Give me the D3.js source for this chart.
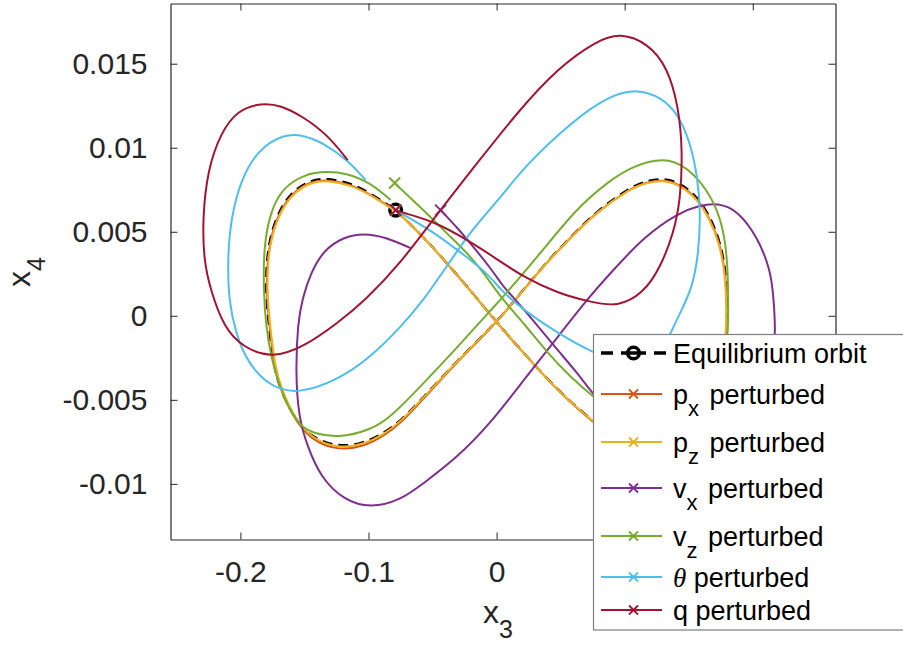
<!DOCTYPE html>
<html>
<head>
<meta charset="utf-8">
<script src="https://cdn.jsdelivr.net/npm/d3@7"></script>
<style>
body { margin: 0; background: #fff; }
svg { display: block; font-family: "Liberation Sans", Arial, sans-serif; }
</style>
</head>
<body>
<svg id="chart" width="903" height="646"></svg>
<script>
// axis ticks
var xTicks = [-0.2, -0.1, 0, 0.1, 0.2];
var yTicks = [-0.01, -0.005, 0, 0.005, 0.01, 0.015];

// equilibrium orbit (x3, x4)
var eqX = [-0.0788,-0.0570,-0.0359,-0.0187,0,0.0211,0.0476,0.0757,0.0968,0.1241,0.1460,0.1632,0.1733,0.1780,0.1803,0.1803,0.1788,0.1749,0.1671,0.1569,0.1436,0.1304,0.1163,0.1046,0.0788,0.0578,0.0383,0.0187,0,-0.0304,-0.0570,-0.0749,-0.0882,-0.1038,-0.1241,-0.1452,-0.1585,-0.1686,-0.1741,-0.1780,-0.1803,-0.1796,-0.1764,-0.1686,-0.1585,-0.1452,-0.1319,-0.1140,-0.0984,-0.0788];
var eqY = [0.00629,0.00470,0.00289,0.00135,-0.00038,-0.00222,-0.00442,-0.00633,-0.00740,-0.00782,-0.00722,-0.00603,-0.00442,-0.00264,-0.00085,0.00111,0.00272,0.00433,0.00588,0.00707,0.00790,0.00820,0.00802,0.00766,0.00629,0.00469,0.00314,0.00135,-0.00038,-0.00264,-0.00484,-0.00625,-0.00698,-0.00758,-0.00782,-0.00722,-0.00603,-0.00442,-0.00305,-0.00044,0.00135,0.00332,0.00492,0.00647,0.00748,0.00808,0.00820,0.00790,0.00730,0.00629];

// p_x perturbed
var pxX = [-0.0788,-0.0568,-0.0357,-0.0185,0.0002,0.0213,0.0478,0.0758,0.0968,0.1241,0.1462,0.1632,0.1731,0.1776,0.1797,0.1797,0.1783,0.1744,0.1666,0.1565,0.1433,0.1302,0.1162,0.1044,0.0786,0.0576,0.0381,0.0185,-0.0002,-0.0306,-0.0572,-0.0751,-0.0882,-0.1038,-0.1241,-0.1450,-0.1582,-0.1681,-0.1736,-0.1775,-0.1797,-0.1790,-0.1759,-0.1682,-0.1581,-0.1450,-0.1319,-0.1140,-0.0984,-0.0789];
var pxY = [0.00629,0.00467,0.00286,0.00132,-0.00041,-0.00225,-0.00447,-0.00640,-0.00752,-0.00797,-0.00736,-0.00612,-0.00447,-0.00264,-0.00085,0.00110,0.00271,0.00430,0.00583,0.00700,0.00781,0.00811,0.00793,0.00758,0.00622,0.00464,0.00309,0.00131,-0.00043,-0.00271,-0.00495,-0.00640,-0.00715,-0.00778,-0.00802,-0.00738,-0.00612,-0.00444,-0.00305,-0.00044,0.00134,0.00330,0.00488,0.00640,0.00740,0.00800,0.00811,0.00782,0.00723,0.00625];

// p_z perturbed
var pzX = [-0.0788,-0.0566,-0.0355,-0.0183,0.0004,0.0215,0.0480,0.0760,0.0968,0.1241,0.1460,0.1628,0.1728,0.1772,0.1793,0.1793,0.1779,0.1740,0.1662,0.1562,0.1430,0.1300,0.1160,0.1042,0.0784,0.0574,0.0379,0.0183,-0.0004,-0.0308,-0.0574,-0.0753,-0.0882,-0.1038,-0.1241,-0.1448,-0.1578,-0.1676,-0.1731,-0.1770,-0.1792,-0.1786,-0.1754,-0.1678,-0.1578,-0.1448,-0.1319,-0.1140,-0.0984,-0.0790];
var pzY = [0.00629,0.00466,0.00285,0.00131,-0.00042,-0.00226,-0.00446,-0.00636,-0.00745,-0.00788,-0.00728,-0.00606,-0.00444,-0.00264,-0.00085,0.00110,0.00270,0.00428,0.00580,0.00697,0.00778,0.00808,0.00790,0.00755,0.00620,0.00462,0.00308,0.00130,-0.00042,-0.00268,-0.00490,-0.00632,-0.00706,-0.00766,-0.00790,-0.00728,-0.00606,-0.00442,-0.00305,-0.00044,0.00133,0.00328,0.00485,0.00636,0.00736,0.00795,0.00806,0.00778,0.00720,0.00622];

// v_x perturbed
var vxX = [-0.0437,-0.0304,-0.0180,-0.0047,0.0055,0.0094,0.0265,0.0476,0.0632,0.0757,0.0929,0.1163,0.1436,0.1710,0.1944,0.2100,0.2162,0.2178,0.2162,0.2139,0.2037,0.1881,0.1725,0.1593,0.1413,0.1148,0.0890,0.0734,0.0476,0.0211,-0.0047,-0.0304,-0.0570,-0.0749,-0.0984,-0.1194,-0.1374,-0.1475,-0.1546,-0.1569,-0.1553,-0.1515,-0.1452,-0.1351,-0.1194,-0.1038,-0.0867,-0.0671];
var vxY = [0.00629,0.00522,0.00409,0.00284,0.00171,0.00141,-0.00008,-0.00204,-0.00341,-0.00472,-0.00609,-0.00740,-0.00799,-0.00770,-0.00651,-0.00472,-0.00264,-0.00085,0.00111,0.00272,0.00469,0.00629,0.00671,0.00659,0.00611,0.00469,0.00254,0.00123,-0.00127,-0.00383,-0.00639,-0.00841,-0.00996,-0.01097,-0.01145,-0.01097,-0.00960,-0.00782,-0.00603,-0.00341,-0.00043,0.00106,0.00254,0.00391,0.00469,0.00492,0.00469,0.00403];

// v_z perturbed
var vzX = [-0.0796,-0.0656,-0.0515,-0.0375,-0.0226,-0.0086,0.0031,0.0211,0.0398,0.0578,0.0757,0.0968,0.1202,0.1436,0.1632,0.1749,0.1803,0.1811,0.1803,0.1749,0.1647,0.1491,0.1304,0.1046,0.0890,0.0632,0.0343,0.0031,-0.0047,-0.0304,-0.0570,-0.0827,-0.0984,-0.1241,-0.1429,-0.1530,-0.1663,-0.1764,-0.1803,-0.1819,-0.1819,-0.1764,-0.1663,-0.1507,-0.1351,-0.1163,-0.0984,-0.0827];
var vzY = [0.00790,0.00689,0.00588,0.00480,0.00373,0.00242,0.00111,-0.00043,-0.00222,-0.00365,-0.00484,-0.00609,-0.00680,-0.00651,-0.00532,-0.00371,-0.00174,0.00034,0.00373,0.00588,0.00748,0.00885,0.00945,0.00885,0.00808,0.00647,0.00373,0.00094,0.00034,-0.00186,-0.00401,-0.00603,-0.00680,-0.00728,-0.00698,-0.00662,-0.00502,-0.00246,-0.00043,0.00153,0.00409,0.00629,0.00766,0.00838,0.00861,0.00849,0.00790,0.00689];

// theta perturbed
var thX = [-0.0788,-0.0749,-0.0515,-0.0304,-0.0070,0.0031,0.0211,0.0476,0.0757,0.0968,0.1163,0.1296,0.1358,0.1436,0.1530,0.1577,0.1593,0.1569,0.1514,0.1413,0.1280,0.1101,0.0890,0.0601,0.0211,0.0031,-0.0180,-0.0437,-0.0570,-0.0749,-0.0984,-0.1241,-0.1553,-0.1764,-0.1944,-0.2037,-0.2092,-0.2100,-0.2077,-0.1998,-0.1866,-0.1663,-0.1507,-0.1351,-0.1163,-0.1023];
var thY = [0.00629,0.00611,0.00510,0.00391,0.00254,0.00153,0.00034,-0.00103,-0.00222,-0.00276,-0.00276,-0.00204,-0.00103,0.00022,0.00171,0.00373,0.00611,0.00826,0.01028,0.01207,0.01302,0.01349,0.01314,0.01165,0.00885,0.00701,0.00528,0.00242,0.00094,-0.00067,-0.00246,-0.00383,-0.00466,-0.00424,-0.00282,-0.00103,0.00093,0.00332,0.00570,0.00808,0.00986,0.01082,0.01076,0.01028,0.00927,0.00808];

// q perturbed
var qX = [-0.0788,-0.0749,-0.0492,-0.0226,-0.0008,0.0211,0.0476,0.0734,0.0945,0.1148,0.1280,0.1382,0.1436,0.1452,0.1421,0.1335,0.1179,0.0968,0.0788,0.0476,0.0164,-0.0164,-0.0476,-0.0749,-0.1023,-0.1241,-0.1507,-0.1749,-0.1975,-0.2131,-0.2233,-0.2287,-0.2295,-0.2256,-0.2155,-0.2022,-0.1842,-0.1686,-0.1507,-0.1319,-0.1163];
var qY = [0.00629,0.00617,0.00564,0.00451,0.00343,0.00230,0.00135,0.00082,0.00052,0.00135,0.00290,0.00492,0.00689,0.00986,0.01242,0.01480,0.01623,0.01683,0.01641,0.01474,0.01213,0.00897,0.00593,0.00314,0.00094,-0.00043,-0.00186,-0.00252,-0.00192,-0.00067,0.00153,0.00332,0.00588,0.00867,0.01088,0.01224,0.01266,0.01254,0.01183,0.01076,0.00927];

var seriesX = [pxX, pzX, vxX, vzX, thX, qX];
var seriesY = [pxY, pzY, vxY, vzY, thY, qY];
var seriesColors = ['#D95319', '#EDB120', '#7E2F8E', '#77AC30', '#4DBEEE', '#A2142F'];
var legendMain = ['p', 'p', 'v', 'v', '\u03B8', 'q'];
var legendSub = ['x', 'z', 'x', 'z', '', ''];

(function() {
	var svg = d3.select('#chart'),
		pLeft = 170.5, pRight = 835.5, pTop = 3.5, pBottom = 539.5,
		ink = '#262626';

	var x = d3.scaleLinear().domain([-0.2546, 0.2646]).range([pLeft, pRight]);
	var y = d3.scaleLinear().domain([-0.01331, 0.018583]).range([pBottom, pTop]);

	function zip(xs, ys) {
		return xs.map(function(v, i) { return [v, ys[i]]; });
	}

	var line = d3.line()
		.x(function(d) { return x(d[0]); })
		.y(function(d) { return y(d[1]); })
		.curve(d3.curveBasis);

	svg.append('clipPath').attr('id', 'plot-clip')
		.append('rect')
		.attr('x', pLeft).attr('y', pTop)
		.attr('width', pRight - pLeft).attr('height', pBottom - pTop);

	var plot = svg.append('g').attr('clip-path', 'url(#plot-clip)');

	// equilibrium orbit, dashed black
	plot.append('path')
		.attr('d', line(zip(eqX, eqY)))
		.attr('fill', 'none')
		.attr('stroke', '#000')
		.attr('stroke-width', 2.2)
		.attr('stroke-dasharray', '10,6');

	plot.append('circle')
		.attr('cx', x(eqX[0]))
		.attr('cy', y(eqY[0]))
		.attr('r', 5.8)
		.attr('fill', 'none')
		.attr('stroke', '#000')
		.attr('stroke-width', 3.5);

	function xMark(g, cx, cy, h, color, w) {
		g.append('path')
			.attr('d', 'M' + (cx - h) + ',' + (cy - h) + 'L' + (cx + h) + ',' + (cy + h) +
				'M' + (cx - h) + ',' + (cy + h) + 'L' + (cx + h) + ',' + (cy - h))
			.attr('stroke', color)
			.attr('stroke-width', w)
			.attr('fill', 'none');
	}

	for (var i = 0; i < seriesX.length; i++) {
		plot.append('path')
			.attr('d', line(zip(seriesX[i], seriesY[i])))
			.attr('fill', 'none')
			.attr('stroke', seriesColors[i])
			.attr('stroke-width', 2);
		xMark(plot, x(seriesX[i][0]), y(seriesY[i][0]), 5.5, seriesColors[i], 2);
	}

	// axes, ticks point inward on all four sides
	function styleAxis(g) {
		g.select('.domain').attr('stroke', ink).attr('stroke-width', 1.2);
		g.selectAll('.tick line').attr('stroke', ink).attr('stroke-width', 1);
		g.selectAll('.tick text').attr('fill', ink).attr('font-size', 30)
			.attr('font-family', '"Liberation Sans", Arial, sans-serif');
	}

	svg.append('g').attr('transform', 'translate(0,' + pBottom + ')')
		.call(d3.axisBottom(x).tickValues(xTicks).tickSize(-7).tickSizeOuter(0).tickPadding(21)
			.tickFormat(function(d) { return String(d); }))
		.call(styleAxis);
	svg.append('g').attr('transform', 'translate(0,' + pTop + ')')
		.call(d3.axisTop(x).tickValues(xTicks).tickSize(-7).tickSizeOuter(0).tickFormat(''))
		.call(styleAxis);
	svg.append('g').attr('transform', 'translate(' + pLeft + ',0)')
		.call(d3.axisLeft(y).tickValues(yTicks).tickSize(-7).tickSizeOuter(0).tickPadding(23)
			.tickFormat(function(d) { return String(d); }))
		.call(styleAxis);
	svg.append('g').attr('transform', 'translate(' + pRight + ',0)')
		.call(d3.axisRight(y).tickValues(yTicks).tickSize(-7).tickSizeOuter(0).tickFormat(''))
		.call(styleAxis);

	// axis labels
	var xl = svg.append('text').attr('x', 483).attr('y', 623).attr('fill', ink).attr('font-size', 32);
	xl.append('tspan').text('x');
	xl.append('tspan').attr('font-size', 25).attr('dy', 15).text('3');

	var yl = svg.append('text').attr('transform', 'translate(30,287) rotate(-90)')
		.attr('fill', ink).attr('font-size', 32);
	yl.append('tspan').text('x');
	yl.append('tspan').attr('font-size', 25).attr('dy', 15).text('4');

	// legend
	var rowY = [353, 394, 442, 488, 536, 577, 610];
	var legend = svg.append('g');
	legend.append('rect')
		.attr('x', 593.5).attr('y', 334.5)
		.attr('width', 320).attr('height', 295.5)
		.attr('fill', '#fff')
		.attr('stroke', '#7f7f7f')
		.attr('stroke-width', 1.2);

	legend.append('line')
		.attr('x1', 601).attr('x2', 666)
		.attr('y1', rowY[0]).attr('y2', rowY[0])
		.attr('stroke', '#000').attr('stroke-width', 3.5)
		.attr('stroke-dasharray', '12,8,25,8,12');
	legend.append('circle')
		.attr('cx', 633.5).attr('cy', rowY[0]).attr('r', 5.8)
		.attr('fill', 'none').attr('stroke', '#000').attr('stroke-width', 3.5);
	legend.append('text')
		.attr('x', 673).attr('y', rowY[0] + 10)
		.attr('font-size', 27).attr('fill', '#000')
		.text('Equilibrium orbit');

	for (var j = 0; j < seriesColors.length; j++) {
		var ry = rowY[j + 1];
		legend.append('line')
			.attr('x1', 601).attr('x2', 662)
			.attr('y1', ry).attr('y2', ry)
			.attr('stroke', seriesColors[j]).attr('stroke-width', 2);
		xMark(legend, 633.5, ry, 4.5, seriesColors[j], 1.8);

		var t = legend.append('text')
			.attr('x', 673).attr('y', ry + 10)
			.attr('font-size', 27).attr('fill', '#000');
		if (legendMain[j] === '\u03B8') {
			t.append('tspan').attr('font-family', '"Liberation Serif", "DejaVu Serif", serif')
				.attr('font-style', 'italic').text(legendMain[j]);
		} else {
			t.append('tspan').text(legendMain[j]);
		}
		if (legendSub[j]) {
			t.append('tspan').attr('font-size', 22).attr('dy', 12).text(legendSub[j]);
			t.append('tspan').attr('dy', -12).attr('dx', 3).text(' perturbed');
		} else {
			t.append('tspan').text(' perturbed');
		}
	}
})();
</script>
</body>
</html>
